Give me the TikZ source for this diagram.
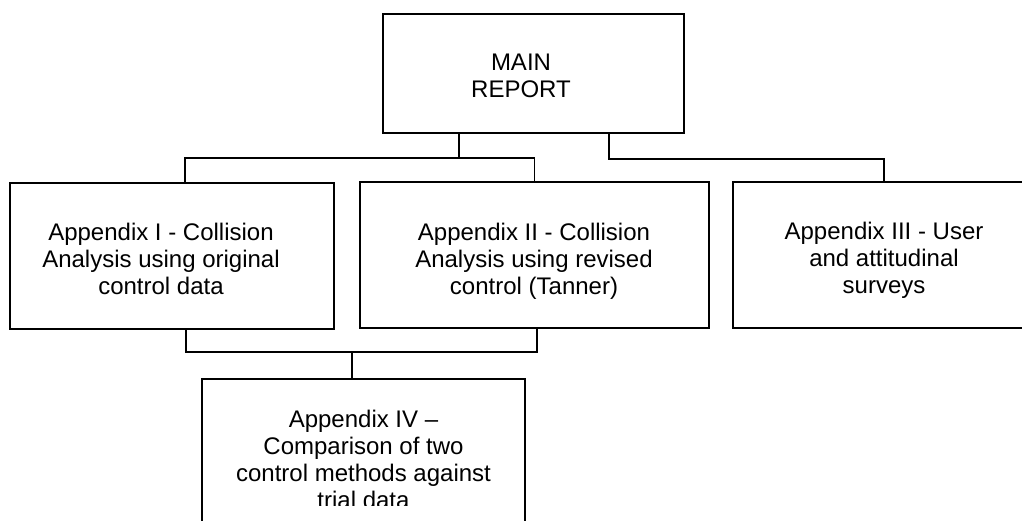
\documentclass[tikz,border=0pt]{standalone}
\usepackage{fontspec}
\setmainfont{Liberation Sans}
\begin{document}
\begin{tikzpicture}[x=1pt, y=-1pt, line width=1.8pt,
    box/.style={draw, rectangle, inner sep=0pt},
    lbl/.style={align=center, anchor=north, inner sep=0pt, font=\fontsize{24}{27}\selectfont}]
    \useasboundingbox (0,0) rectangle (1022,520);
    \clip (0,0) rectangle (1022,520);

    \node[box, minimum width=301pt, minimum height=119pt] (main) at (533.5,73.5) {};
    \node[box, minimum width=324pt, minimum height=146pt] (apx1) at (172,256) {};
    \node[box, minimum width=349pt, minimum height=146pt] (apx2) at (534.5,255) {};
    \node[box, minimum width=302pt, minimum height=146pt] (apx3) at (884,255) {};
    \node[box, minimum width=323pt, minimum height=161pt] (apx4) at (363.5,459.5) {};

    \node[lbl] (tmain) at (521,52.7) {MAIN\\REPORT};
    \node[lbl] (tapx1) at (161,222.7) {Appendix I - Collision\\Analysis using original\\control data};
    \node[lbl] (tapx2) at (534,222.7) {Appendix II - Collision\\Analysis using revised\\control (Tanner)};
    \node[lbl] (tapx3) at (884,220.9) {Appendix III - User\\and attitudinal\\surveys};
    \begin{scope}
        \clip (202,379) rectangle (525,505);
        \node[lbl] (tapx4) at (363.5,409.5) {Appendix IV --\\Comparison of two\\control methods against\\trial data};
    \end{scope}

    \coordinate (jtop) at (459,158);
    \draw ([xshift=-74.5pt]main.south) -- (jtop);
    \draw ([xshift=13pt]apx1.north) |- (jtop) -| (apx2.north);
    \draw ([xshift=75.5pt]main.south) -- ++(0,25) -| (apx3.north);

    \coordinate (jbot) at (352,352);
    \draw ([xshift=14pt]apx1.south) |- (jbot) -| ([xshift=2.5pt]apx2.south);
    \draw (jbot) -- ([xshift=-11.5pt]apx4.north);
\end{tikzpicture}
\end{document}
